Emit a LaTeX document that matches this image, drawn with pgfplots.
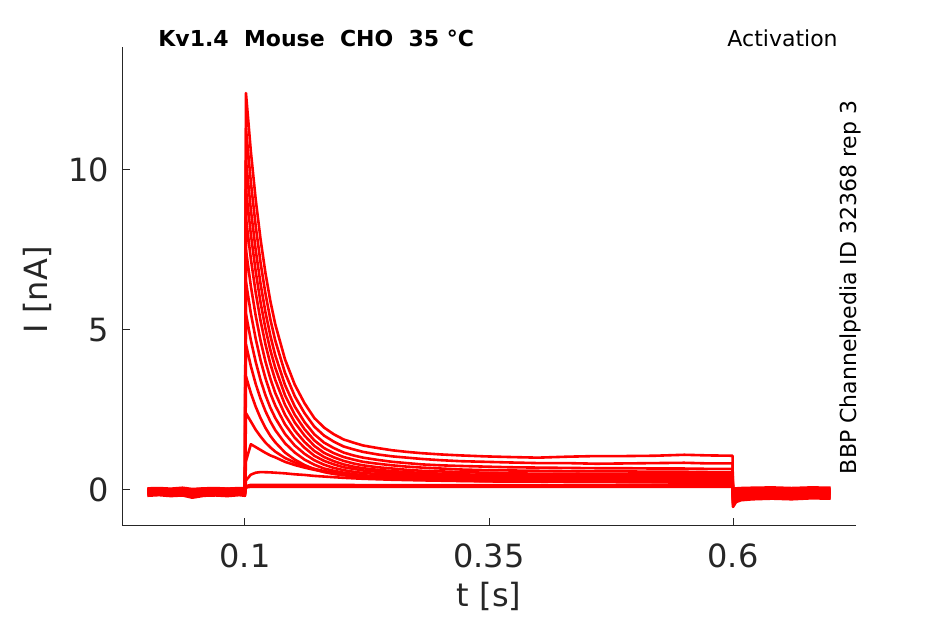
\documentclass[border=0pt]{standalone}
\usepackage{pgfplots}
\pgfplotsset{compat=1.18}
\usepackage{pgfplotstable}
\usepackage{fontspec}
\setmainfont{DejaVu Sans}
\definecolor{axgray}{HTML}{262626}
\definecolor{trred}{HTML}{FF0000}
\pgfplotstableread{
t a b c d e f g h i j k l m n o
0 -0.05 0.00 -0.10 0.03 -0.15 -0.02 -0.08 0.05 -0.12 -0.04 0.02 -0.18 -0.06 0.00 -0.10
0.012 -0.08 0.02 -0.12 0.05 -0.13 -0.04 -0.06 0.06 -0.10 -0.03 0.03 -0.16 -0.05 0.01 -0.09
0.024 -0.03 -0.02 -0.08 0.02 -0.17 0.00 -0.09 0.04 -0.13 -0.06 0.01 -0.19 -0.07 -0.01 -0.11
0.036 -0.06 0.01 -0.11 0.04 -0.14 -0.03 -0.07 0.07 -0.11 -0.04 0.04 -0.17 -0.05 0.02 -0.08
0.046 -0.12 -0.03 -0.16 0.00 -0.22 -0.07 -0.13 0.03 -0.18 -0.09 -0.02 -0.24 -0.10 -0.03 -0.14
0.058 -0.05 0.02 -0.09 0.05 -0.15 -0.01 -0.08 0.05 -0.12 -0.05 0.02 -0.18 -0.06 0.00 -0.10
0.07 -0.07 0.00 -0.12 0.03 -0.14 -0.03 -0.06 0.06 -0.11 -0.03 0.03 -0.17 -0.05 0.01 -0.09
0.082 -0.04 0.03 -0.10 0.04 -0.16 -0.02 -0.09 0.04 -0.13 -0.05 0.01 -0.19 -0.07 -0.01 -0.11
0.094 -0.06 0.01 -0.08 0.05 -0.13 0.00 -0.07 0.06 -0.10 -0.04 0.03 -0.16 -0.05 0.01 -0.09
0.1 -0.05 0.00 -0.10 0.03 -0.15 -0.02 -0.08 0.05 -0.12 -0.04 0.02 -0.18 -0.06 0.00 -0.10
0.101 12.4 11.3 10.3 9.4 8.5 7.5 6.5 5.5 4.55 3.55 2.40 0.90 0.30 0.12 0.08
0.106 10.58 9.62 8.76 7.99 7.22 6.37 5.52 4.68 3.87 3.03 2.14 1.43 0.48 0.16 0.10
0.111 9.07 8.24 7.49 6.82 6.16 5.44 4.72 4.00 3.31 2.60 1.88 1.34 0.54 0.16 0.10
0.116 7.82 7.09 6.43 5.85 5.28 4.66 4.05 3.43 2.85 2.24 1.67 1.25 0.56 0.16 0.10
0.121 6.77 6.13 5.55 5.04 4.55 4.01 3.49 2.96 2.46 1.94 1.48 1.16 0.555 0.16 0.10
0.126 5.90 5.33 4.82 4.37 3.94 3.48 3.02 2.57 2.14 1.69 1.33 1.08 0.55 0.16 0.10
0.131 5.18 4.67 4.21 3.82 3.44 3.03 2.64 2.25 1.87 1.49 1.20 1.02 0.54 0.16 0.10
0.141 4.08 3.66 3.28 2.96 2.66 2.35 2.05 1.75 1.46 1.17 1.00 0.88 0.52 0.16 0.10
0.151 3.29 2.93 2.61 2.35 2.11 1.86 1.63 1.39 1.17 0.95 0.86 0.78 0.49 0.16 0.10
0.161 2.71 2.40 2.12 1.90 1.70 1.50 1.32 1.13 0.95 0.78 0.75 0.70 0.47 0.16 0.10
0.171 2.25 1.98 1.74 1.55 1.38 1.22 1.07 0.93 0.79 0.65 0.66 0.63 0.44 0.16 0.10
0.181 1.95 1.70 1.48 1.31 1.16 1.03 0.91 0.79 0.67 0.56 0.59 0.57 0.42 0.16 0.10
0.191 1.74 1.51 1.31 1.15 1.02 0.90 0.80 0.69 0.60 0.50 0.54 0.52 0.40 0.16 0.10
0.201 1.58 1.36 1.17 1.03 0.91 0.80 0.71 0.62 0.54 0.46 0.49 0.48 0.38 0.16 0.10
0.211 1.48 1.27 1.08 0.95 0.83 0.73 0.66 0.57 0.50 0.43 0.46 0.45 0.365 0.155 0.10
0.221 1.39 1.19 1.01 0.88 0.77 0.68 0.61 0.53 0.46 0.40 0.43 0.42 0.35 0.15 0.10
0.236 1.31 1.11 0.94 0.82 0.71 0.63 0.57 0.50 0.43 0.38 0.40 0.39 0.335 0.15 0.10
0.251 1.24 1.05 0.88 0.77 0.67 0.59 0.53 0.47 0.41 0.36 0.37 0.36 0.32 0.15 0.10
0.266 1.19 1.01 0.84 0.73 0.63 0.56 0.50 0.45 0.39 0.34 0.35 0.34 0.31 0.15 0.10
0.281 1.15 0.97 0.80 0.70 0.60 0.53 0.48 0.43 0.38 0.33 0.33 0.32 0.30 0.15 0.10
0.301 1.11 0.93 0.77 0.67 0.58 0.51 0.46 0.41 0.36 0.32 0.31 0.30 0.29 0.15 0.10
0.321 1.08 0.90 0.75 0.64 0.56 0.49 0.44 0.40 0.35 0.31 0.30 0.29 0.28 0.15 0.10
0.346 1.05 0.88 0.73 0.62 0.54 0.47 0.43 0.39 0.34 0.30 0.29 0.28 0.27 0.15 0.10
0.371 1.03 0.86 0.71 0.61 0.52 0.46 0.42 0.38 0.33 0.30 0.28 0.27 0.26 0.15 0.10
0.40 1.01 0.84 0.70 0.60 0.51 0.45 0.41 0.37 0.33 0.30 0.28 0.27 0.26 0.15 0.10
0.43 1.04 0.84 0.69 0.59 0.51 0.45 0.41 0.37 0.33 0.29 0.27 0.26 0.25 0.14 0.10
0.46 1.06 0.82 0.68 0.58 0.50 0.44 0.40 0.36 0.32 0.29 0.27 0.26 0.25 0.14 0.10
0.49 1.06 0.83 0.68 0.58 0.50 0.44 0.40 0.36 0.32 0.29 0.27 0.26 0.24 0.14 0.10
0.52 1.07 0.84 0.67 0.57 0.49 0.44 0.40 0.36 0.32 0.29 0.27 0.25 0.24 0.14 0.10
0.55 1.10 0.85 0.67 0.57 0.49 0.44 0.40 0.36 0.32 0.29 0.27 0.25 0.23 0.14 0.10
0.575 1.08 0.83 0.66 0.56 0.49 0.43 0.39 0.35 0.31 0.28 0.26 0.25 0.23 0.14 0.10
0.5995 1.07 0.83 0.66 0.56 0.49 0.43 0.39 0.35 0.31 0.28 0.26 0.25 0.23 0.14 0.10
0.6 -0.53 -0.45 -0.40 -0.35 -0.30 -0.26 -0.22 -0.19 -0.16 -0.13 -0.10 -0.07 -0.04 0.00 0.04
0.603 -0.38 -0.32 -0.28 -0.25 -0.22 -0.18 -0.16 -0.13 -0.11 -0.08 -0.06 -0.04 -0.01 0.02 0.05
0.608 -0.32 -0.27 -0.24 -0.21 -0.19 -0.15 -0.13 -0.11 -0.09 -0.06 -0.04 -0.02 0.00 0.03 0.06
0.62 -0.29 -0.25 -0.22 -0.19 -0.17 -0.14 -0.12 -0.10 -0.08 -0.05 -0.03 -0.01 0.01 0.04 0.07
0.64 -0.27 -0.23 -0.20 -0.17 -0.15 -0.12 -0.10 -0.08 -0.06 -0.04 -0.02 0.00 0.02 0.05 0.08
0.66 -0.29 -0.25 -0.22 -0.19 -0.17 -0.14 -0.12 -0.10 -0.08 -0.06 -0.04 -0.02 0.00 0.03 0.06
0.68 -0.26 -0.22 -0.19 -0.16 -0.14 -0.11 -0.09 -0.07 -0.05 -0.03 -0.01 0.01 0.03 0.06 0.08
0.70 -0.27 -0.24 -0.21 -0.18 -0.16 -0.13 -0.11 -0.09 -0.07 -0.05 -0.03 -0.01 0.01 0.04 0.07
}\datatable
\begin{document}
\begin{tikzpicture}
\begin{axis}[
  scale only axis,
  width=367pt, height=239.5pt,
  xmin=-0.026, xmax=0.726,
  ymin=-1.125, ymax=13.84,
  axis x line*=bottom, axis y line*=left,
  axis line style={color=axgray, line width=0.5pt},
  tick align=inside,
  major tick length=4pt,
  tick style={color=axgray, line width=0.5pt},
  xtick={0.1,0.35,0.6}, xticklabels={0.1,0.35,0.6},
  ytick={0,5,10}, yticklabels={0,5,10},
  /pgf/number format/assume math mode=true,
  tick label style={font=\fontsize{16}{19}\selectfont, text=axgray},
  yticklabel style={xshift=-3pt},
  xticklabel style={yshift=-5.5pt},
  xlabel={t [s]}, ylabel={I [nA]},
  label style={font=\fontsize{16}{19}\selectfont, text=axgray},
  xlabel style={at={(axis description cs:0.5,-0.148)}, anchor=center},
  ylabel style={at={(axis description cs:-0.1158,0.493)}, anchor=center, rotate=0},
  clip=false,
]
\pgfplotsinvokeforeach{a,b,c,d,e,f,g,h,i,j,k,l,m,n,o}{
  \addplot[color=trred, line width=1.3pt, line join=round] table[x=t, y=#1]{\datatable};
}
\node[anchor=base west, inner sep=0pt, font=\fontsize{11}{13}\selectfont\bfseries] at (axis description cs:0.049,1) {Kv1.4\ \ Mouse\ \ CHO\ \ 35 °C};
\node[anchor=base east, inner sep=0pt, font=\fontsize{11}{13}\selectfont] at (axis description cs:0.9755,1) {Activation};
\node[rotate=90, anchor=center, font=\fontsize{11}{13}\selectfont] at (axis description cs:0.9918,0.498) {BBP Channelpedia ID 32368 rep 3};
\end{axis}
\pgfresetboundingbox
\path[use as bounding box] (-61pt,-49pt) rectangle (411.5pt,263pt);
\end{tikzpicture}
\end{document}
